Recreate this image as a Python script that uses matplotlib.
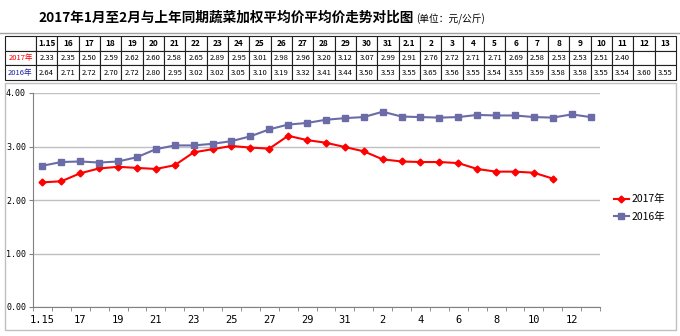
import matplotlib
matplotlib.use("Agg")
import matplotlib.pyplot as plt
from matplotlib.patches import Rectangle
from matplotlib.lines import Line2D

plt.rcParams['font.family'] = ['Noto Sans CJK SC', 'DejaVu Sans']

dates = ["1.15", "16", "17", "18", "19", "20", "21", "22", "23", "24", "25",
         "26", "27", "28", "29", "30", "31", "2.1", "2", "3", "4", "5", "6",
         "7", "8", "9", "10", "11", "12", "13"]
axis_labels = ["1.15", "16", "17", "18", "19", "20", "21", "22", "23", "24",
               "25", "26", "27", "28", "29", "30", "31", "1", "2", "3", "4",
               "5", "6", "7", "8", "9", "10", "11", "12", "13"]
price_2017 = [2.33, 2.35, 2.50, 2.59, 2.62, 2.60, 2.58, 2.65, 2.89, 2.95,
              3.01, 2.98, 2.96, 3.20, 3.12, 3.07, 2.99, 2.91, 2.76, 2.72,
              2.71, 2.71, 2.69, 2.58, 2.53, 2.53, 2.51, 2.40]
price_2016 = [2.64, 2.71, 2.72, 2.70, 2.72, 2.80, 2.95, 3.02, 3.02, 3.05,
              3.10, 3.19, 3.32, 3.41, 3.44, 3.50, 3.53, 3.55, 3.65, 3.56,
              3.55, 3.54, 3.55, 3.59, 3.58, 3.58, 3.55, 3.54, 3.60, 3.55]
yticks = [0, 1, 2, 3, 4]

c2017 = "#FF0000"
c2016 = "#6B6BA8"

W, H = 680, 336
fig = plt.figure(figsize=(W / 100, H / 100), dpi=100)


def fx(px):
    return px / W


def fy(py):
    return 1 - py / H


# title
fig.text(fx(38), fy(18), "2017年1月至2月与上年同期蔬菜加权平均价平均价走势对比图",
         fontsize=9.8, fontweight="bold", ha="left", va="center")
fig.text(fx(416), fy(19), "(单位：元/公斤)", fontsize=7, ha="left", va="center")
fig.add_artist(Line2D([0, 1], [fy(33), fy(33)], color="#A0A0A0", lw=1,
                      transform=fig.transFigure))

# table
tab_ax = fig.add_axes([fx(5), fy(80), fx(671), 44 / H])
tab_ax.axis("off")
row_2017 = ["%.2f" % v for v in price_2017] + [""] * (len(dates) - len(price_2017))
row_2016 = ["%.2f" % v for v in price_2016]
cells = [[""] + dates, ["2017年"] + row_2017, ["2016年"] + row_2016]
col_w = [31] + [640 / len(dates)] * len(dates)
tbl = tab_ax.table(cellText=cells, colWidths=[w / 671 for w in col_w],
                   bbox=[0, 0, 1, 1], cellLoc="center")
tbl.auto_set_font_size(False)
for (r, c), cell in tbl.get_celld().items():
    cell.set_linewidth(0.8)
    cell.set_edgecolor("#202020")
    txt = cell.get_text()
    txt.set_fontsize(5.5)
    if r == 0:
        txt.set_fontweight("bold")
        txt.set_fontsize(6)
    if c == 0 and r == 1:
        txt.set_color(c2017)
    if c == 0 and r == 2:
        txt.set_color("#2020A0")

# chart frame
fig.add_artist(Rectangle((fx(5), fy(330)), fx(671), (330 - 83) / H,
                         transform=fig.transFigure, fill=False,
                         edgecolor="#C0C0C0", lw=1))

ax = fig.add_axes([fx(33), fy(307), fx(567), (307 - 93) / H])
x = list(range(len(dates)))
ax.plot(x[:len(price_2017)], price_2017, color=c2017, lw=1.5, marker="D",
        markersize=3.5, label="2017年")
ax.plot(x, price_2016, color=c2016, lw=1.5, marker="s", markersize=5,
        label="2016年")

ax.set_xlim(-0.5, len(dates) - 0.5)
ax.set_ylim(0, 4)
ax.set_yticks(yticks)
ax.set_yticklabels(["%.2f" % v for v in yticks], fontsize=6,
                   family="DejaVu Sans Mono")
ax.set_xticks(x[::2])
ax.set_xticklabels(axis_labels[::2], fontsize=7.5, family="DejaVu Sans Mono")
ax.set_xticks([i - 0.5 for i in range(len(dates) + 1)], minor=True)
ax.tick_params(axis="x", which="major", length=0, pad=6)
ax.tick_params(axis="x", which="minor", length=3, color="#808080")
ax.tick_params(axis="y", length=3, color="#808080", pad=2)
ax.yaxis.grid(True, color="#C0C0C0", lw=1)
ax.set_axisbelow(True)
for s in ["top", "right"]:
    ax.spines[s].set_visible(False)
ax.spines["left"].set_color("#808080")
ax.spines["bottom"].set_color("#808080")

ax.legend(loc="center left", bbox_to_anchor=(fx(614), fy(208)),
          bbox_transform=fig.transFigure, frameon=False, fontsize=7.5,
          handlelength=1.4, labelspacing=0.7, handletextpad=0.3,
          borderpad=0, borderaxespad=0)

fig.savefig("out.png", dpi=100)
